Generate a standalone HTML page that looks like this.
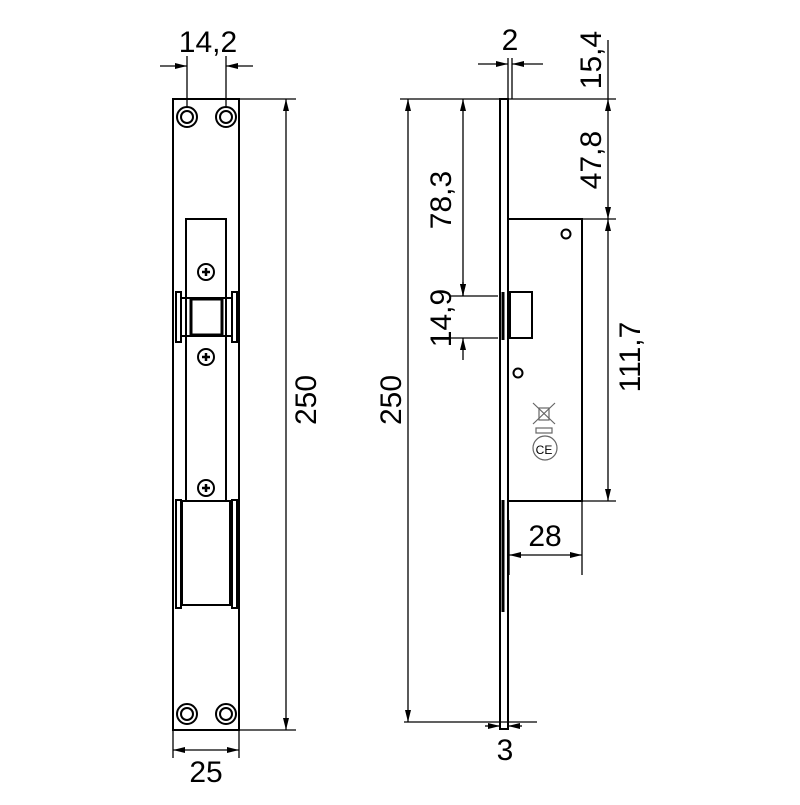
<!DOCTYPE html>
<html><head><meta charset="utf-8"><style>body{margin:0;background:#fff}svg text{font-family:"Liberation Sans",sans-serif;font-size:30px;fill:#000}</style></head><body>
<svg width="800" height="800" viewBox="0 0 800 800" xmlns="http://www.w3.org/2000/svg">
<defs><marker id="a" markerWidth="12" markerHeight="6" refX="12" refY="3" orient="auto-start-reverse" markerUnits="userSpaceOnUse"><path d="M0,0L12,3L0,6z" fill="#000"/></marker></defs>
<g fill="none" stroke="#000" stroke-width="2">
<rect x="173" y="99" width="66" height="631"/>
<circle cx="187" cy="117" r="10"/><circle cx="187" cy="117" r="6"/>
<circle cx="226" cy="117" r="10"/><circle cx="226" cy="117" r="6"/>
<circle cx="187" cy="714" r="10"/><circle cx="187" cy="714" r="6"/>
<circle cx="226" cy="714" r="10"/><circle cx="226" cy="714" r="6"/>
<path d="M186,500V219H226V500"/>
<rect x="176" y="292" width="5" height="50"/><rect x="232" y="292" width="5" height="50"/>
<rect x="181" y="298" width="51" height="38"/>
<rect x="191" y="299" width="31" height="36" stroke-width="3"/>
<circle cx="206" cy="272" r="8"/><circle cx="206" cy="357" r="8"/><circle cx="206" cy="488" r="8"/>
<path d="M202,272H210M206,268V276M202,357H210M206,353V361M202,488H210M206,484V492" stroke-width="2.5"/>
<rect x="182" y="501" width="48" height="104"/>
<rect x="176" y="500" width="5" height="108"/><rect x="232" y="500" width="5" height="108"/>
</g>
<g stroke="#000" stroke-width="1.3" fill="none">
<line x1="187" y1="56" x2="187" y2="108"/><line x1="226" y1="56" x2="226" y2="108"/>
<line x1="160" y1="66" x2="187" y2="66" marker-end="url(#a)"/><line x1="253" y1="66" x2="226" y2="66" marker-end="url(#a)"/>
<line x1="239" y1="99" x2="296" y2="99"/><line x1="239" y1="730" x2="296" y2="730"/>
<line x1="286" y1="99" x2="286" y2="730" marker-start="url(#a)" marker-end="url(#a)"/>
<line x1="173" y1="730" x2="173" y2="758"/><line x1="239" y1="730" x2="239" y2="758"/>
<line x1="173" y1="750" x2="239" y2="750" marker-start="url(#a)" marker-end="url(#a)"/>
<line x1="400" y1="99" x2="616" y2="99"/>
<line x1="408" y1="99" x2="408" y2="722" marker-start="url(#a)" marker-end="url(#a)"/>
<line x1="404" y1="722" x2="537" y2="722"/>
<line x1="463" y1="99" x2="463" y2="296" marker-start="url(#a)" marker-end="url(#a)"/>
<line x1="450" y1="296" x2="498" y2="296"/><line x1="450" y1="338" x2="498" y2="338"/>
<line x1="463" y1="282" x2="463" y2="296" marker-end="url(#a)"/>
<line x1="463" y1="360" x2="463" y2="338" marker-end="url(#a)"/>
<line x1="508" y1="58" x2="508" y2="99"/><line x1="512" y1="58" x2="512" y2="99"/>
<line x1="478" y1="64" x2="508" y2="64" marker-end="url(#a)"/><line x1="543" y1="64" x2="512" y2="64" marker-end="url(#a)"/>
<line x1="608" y1="40" x2="608" y2="99"/>
<line x1="608" y1="99" x2="608" y2="219" marker-start="url(#a)" marker-end="url(#a)"/>
<line x1="582" y1="219" x2="616" y2="219"/><line x1="582" y1="501" x2="616" y2="501"/>
<line x1="608" y1="219" x2="608" y2="501" marker-start="url(#a)" marker-end="url(#a)"/>
<line x1="582" y1="501" x2="582" y2="575"/><line x1="509" y1="520" x2="509" y2="575"/>
<line x1="509" y1="555" x2="582" y2="555" marker-start="url(#a)" marker-end="url(#a)"/>
<line x1="485" y1="726" x2="500" y2="726" marker-end="url(#a)"/><line x1="522" y1="726" x2="508" y2="726" marker-end="url(#a)"/>
</g>
<g fill="none" stroke="#000" stroke-width="2">
<rect x="500" y="99" width="8" height="630"/>
<rect x="508" y="219" width="74" height="282"/>
<rect x="510" y="292" width="22" height="46"/>
<path d="M503,292V340" stroke-width="3"/>
<path d="M503,500V612" stroke-width="3"/>
<circle cx="566" cy="234" r="4.5"/><circle cx="518" cy="373" r="4.5"/>
</g>
<g stroke="#666" stroke-width="1.2" fill="none">
<path d="M533,403L555,424M555,403L533,424"/><rect x="539" y="408" width="10" height="12"/>
<rect x="536" y="428" width="16" height="5"/>
<circle cx="545" cy="448" r="12"/>
</g>
<text x="544" y="454" style="font-size:12px" fill="#666" text-anchor="middle">CE</text>
<text x="208" y="52" text-anchor="middle">14,2</text>
<text x="206" y="782" text-anchor="middle">25</text>
<text x="510" y="50" text-anchor="middle">2</text>
<text x="545" y="546" text-anchor="middle">28</text>
<text x="505" y="760" text-anchor="middle">3</text>
<text transform="translate(316,400) rotate(-90)" text-anchor="middle">250</text>
<text transform="translate(401,400) rotate(-90)" text-anchor="middle">250</text>
<text transform="translate(451,200) rotate(-90)" text-anchor="middle">78,3</text>
<text transform="translate(451,318) rotate(-90)" text-anchor="middle">14,9</text>
<text transform="translate(601,60) rotate(-90)" text-anchor="middle">15,4</text>
<text transform="translate(601,160) rotate(-90)" text-anchor="middle">47,8</text>
<text transform="translate(640,357) rotate(-90)" text-anchor="middle">111,7</text>
</svg>
</body></html>
